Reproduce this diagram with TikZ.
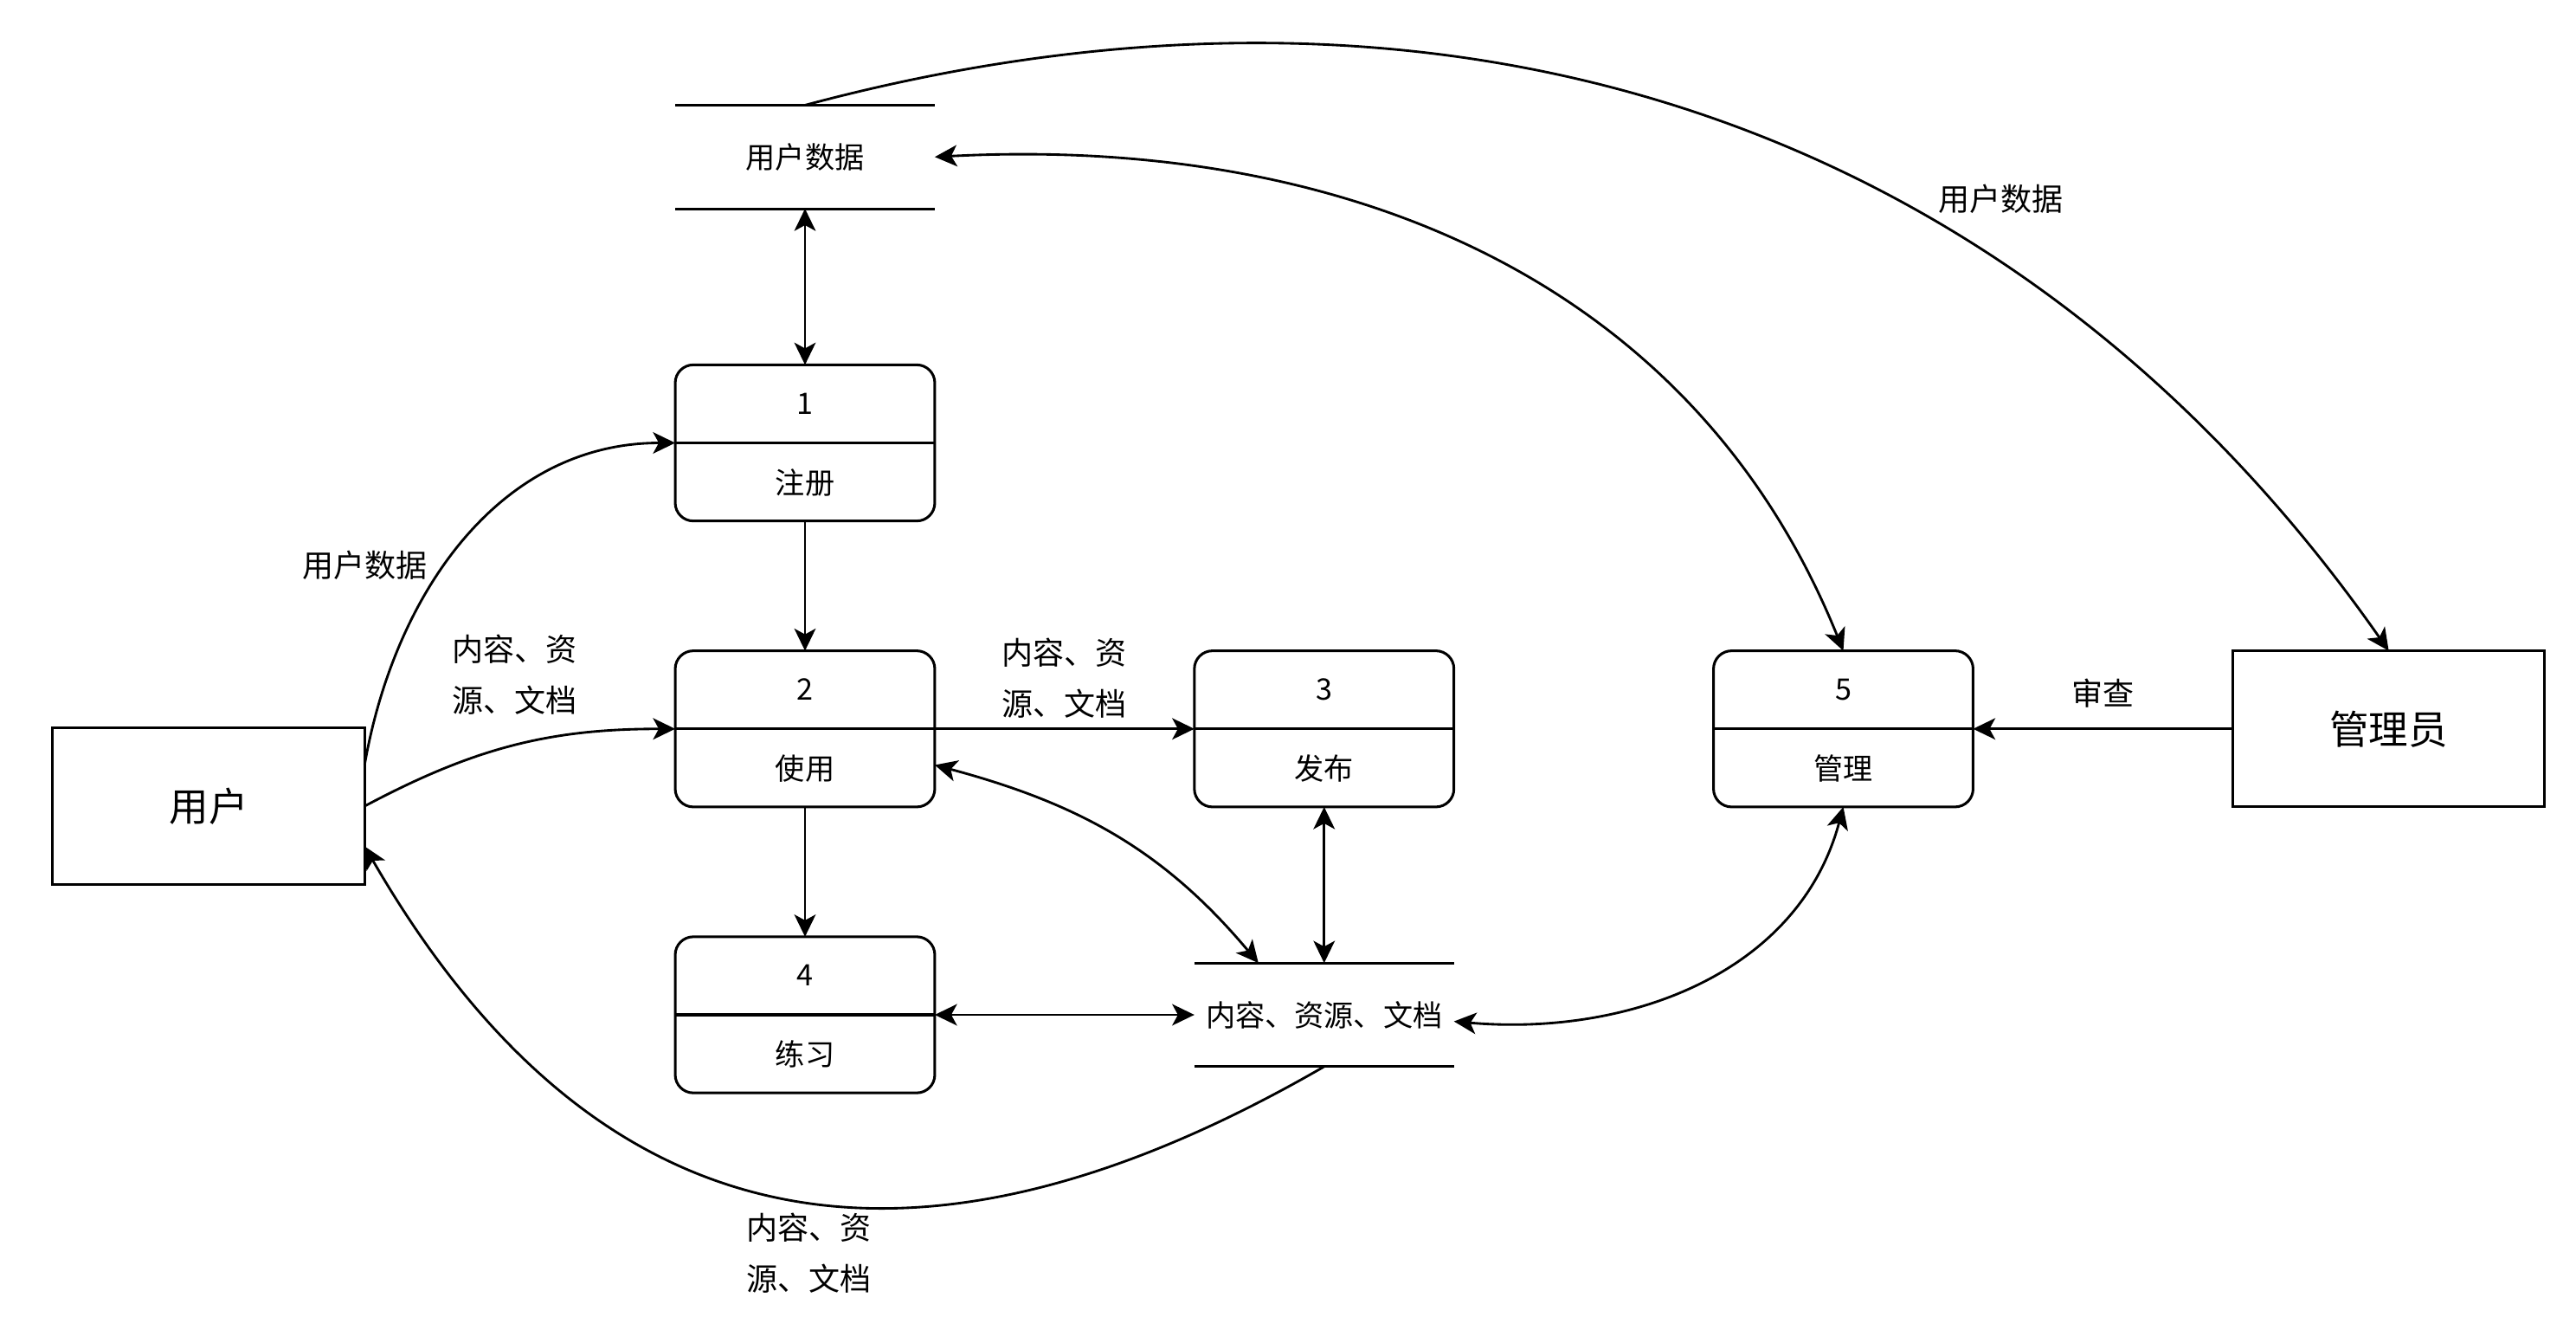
\documentclass[tikz,border=0pt]{standalone}
\usepackage{fontspec}
\setmainfont{Noto Sans CJK SC}
\usetikzlibrary{arrows.meta, positioning, calc}
\newcommand{\Proc}[4]{%
  \node[proc, #2] (#1) {};
  \draw[divider] (#1.west) -- (#1.east);
  \node[proctext] (#1-num) at ([yshift=24pt]#1.center) {#3};
  \node[proctext] (#1-txt) at ([yshift=-24pt]#1.center) {#4};
}
\newcommand{\Store}[3]{%
  \node[store, #2] (#1) {#3};
  \draw[divider] (#1.north west) -- (#1.north east);
  \draw[divider] (#1.south west) -- (#1.south east);
}
\tikzset{
    proc/.style={draw, line width=1.6pt, rounded corners=11pt, minimum width=158pt, minimum height=95pt, inner sep=0pt, outer sep=0pt},
    divider/.style={line width=1.6pt},
    proctext/.style={font=\fontsize{18}{20}\selectfont, inner sep=0pt},
    store/.style={minimum width=158pt, minimum height=63pt, inner sep=0pt, outer sep=0pt, font=\fontsize{18}{20}\selectfont},
    entity/.style={draw, line width=1.6pt, minimum width=190pt, minimum height=95pt, outer sep=0pt, font=\fontsize{24}{28}\selectfont},
    lbl/.style={font=\fontsize{19}{31}\selectfont, align=center, inner sep=0pt},
    flow/.style={line width=1.5pt},
}
\begin{document}
\begin{tikzpicture}[x=1pt, y=-1pt, >={Stealth[length=13.5pt, width=13pt, inset=3.5pt]}]
    \useasboundingbox (0,0) rectangle (1568,809);

    \Proc{p1}{at={(490,269.5)}}{1}{注册}
    \Proc{p2}{below=79pt of p1}{2}{使用}
    \Proc{p3}{right=158pt of p2}{3}{发布}
    \Proc{p4}{below=79pt of p2}{4}{练习}
    \Proc{p5}{right=158pt of p3}{5}{管理}

    \node[entity] (user) at (127,490.5) {用户};
    \node[entity, right=158pt of p5] (admin) {管理员};

    \Store{s1}{above=95pt of p1}{用户数据}
    \Store{s2}{below=95pt of p3}{内容、资源、文档}

    \draw (s1) edge[flow, <->] (p1);
    \draw (p1) edge[flow, ->] (p2);
    \draw (p2) edge[flow, ->] (p4);
    \draw (p2.east) edge[flow, ->] node[lbl, above=6pt] {内容、资\\源、文档} (p3.west);
    \draw (p3) edge[flow, <->] (s2);
    \draw (p4.east) edge[flow, <->] (s2.west);
    \draw ([yshift=-22pt]p2.east) edge[flow, <->, out=-15, in=130] ([xshift=-40pt]s2.north);
    \draw ([yshift=-4pt]s2.east) edge[flow, <->, out=-5, in=-105] (p5.south);
    \draw (admin) edge[flow, ->] node[lbl, above=12pt] {审查} (p5);
    \draw (s1.east) edge[flow, <->, out=3, in=112] (p5.north);
    \draw (s1.north) edge[flow, ->, out=15, in=125] node[lbl, pos=0.7, above=30pt] {用户数据} (admin.north);

    \draw ([yshift=-22pt]user.north east) edge[flow, ->, out=80, in=180] node[lbl, pos=0.43, left=10pt] {用户数据} (p1.west);
    \draw (user.east) edge[flow, ->, out=28, in=180] node[lbl, midway, above=18pt] {内容、资\\源、文档} (p2.west);
    \draw (s2.south) edge[flow, ->, out=-150, in=-60, looseness=1.22] node[lbl, pos=0.47, below=6pt] {内容、资\\源、文档} ([yshift=23pt]user.south east);

  \end{tikzpicture}
\end{document}
